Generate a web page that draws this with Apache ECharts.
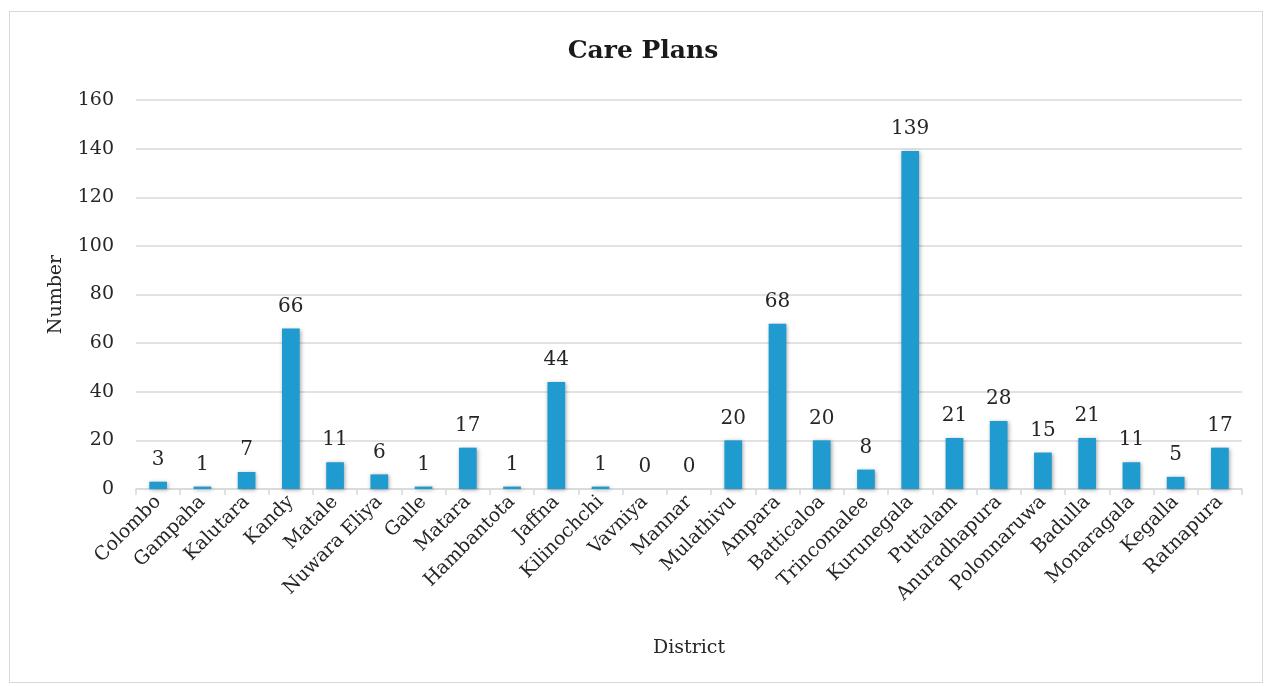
<!DOCTYPE html>
<html><head><meta charset="utf-8">
<script src="https://cdn.jsdelivr.net/npm/echarts@6/dist/echarts.min.js"></script>
<style>
html,body{margin:0;padding:0;background:#fff;}
#frame{position:absolute;left:9px;top:11px;width:1254px;height:672px;border:1.5px solid #d9d9d9;box-sizing:border-box;}
#chart{position:absolute;left:0;top:0;width:1266px;height:686px;}
</style></head>
<body>
<div id="frame"></div>
<div id="chart"></div>
<script>
const categories = ["Colombo","Gampaha","Kalutara","Kandy","Matale","Nuwara Eliya","Galle","Matara","Hambantota","Jaffna","Kilinochchi","Vavniya","Mannar","Mulathivu","Ampara","Batticaloa","Trincomalee","Kurunegala","Puttalam","Anuradhapura","Polonnaruwa","Badulla","Monaragala","Kegalla","Ratnapura"];
const values = [3,1,7,66,11,6,1,17,1,44,1,0,0,20,68,20,8,139,21,28,15,21,11,5,17];
const yTicks = [0,20,40,60,80,100,120,140,160];

const font = "DejaVu Serif";
const chart = echarts.init(document.getElementById('chart'));
chart.setOption({
  animation:false,
  title:{text:'Care Plans',left:638,textAlign:'center',top:34,textStyle:{fontFamily:font,fontWeight:'bold',fontSize:25,color:'#1a1a1a'}},
  grid:{left:136,right:24,top:100,bottom:197},
  xAxis:{type:'category',data:categories,
    name:'District',nameLocation:'middle',nameGap:150,
    nameTextStyle:{fontFamily:font,fontSize:19,color:'#262626'},
    axisLine:{lineStyle:{color:'#d9d9d9',width:1.5}},
    axisTick:{show:true,alignWithLabel:false,length:6,lineStyle:{color:'#d9d9d9',width:1.5}},
    axisLabel:{rotate:45,interval:0,fontFamily:font,fontSize:19,color:'#262626',margin:10}},
  yAxis:{type:'value',min:yTicks[0],max:yTicks[yTicks.length-1],interval:20,
    name:'Number',nameLocation:'middle',nameGap:70,nameRotate:90,
    nameTextStyle:{fontFamily:font,fontSize:19,color:'#262626'},
    axisLine:{show:false},axisTick:{show:false},
    splitLine:{lineStyle:{color:'#d9d9d9',width:1.5}},
    axisLabel:{fontFamily:font,fontSize:19,color:'#262626',margin:22}},
  series:[{type:'bar',data:values,barWidth:'40%',
    itemStyle:{color:'#1f9bd0',shadowColor:'rgba(0,0,0,0.35)',shadowBlur:4,shadowOffsetX:1,shadowOffsetY:1},
    label:{show:true,position:'top',distance:12,fontFamily:font,fontSize:20,color:'#262626'}}]
});
</script>
</body></html>
